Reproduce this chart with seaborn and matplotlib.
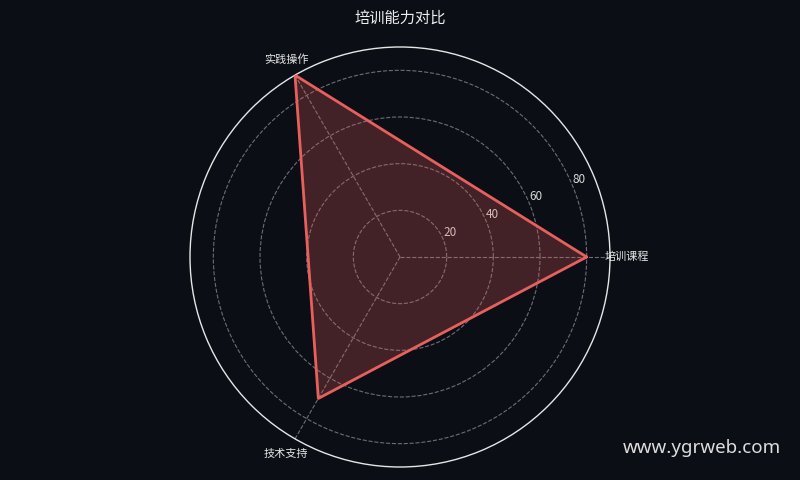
import numpy as np
import pandas as pd
import matplotlib
matplotlib.use('Agg')
import matplotlib.pyplot as plt
import seaborn as sns

categories = ['培训课程', '实践操作', '技术支持']
values = [80, 90, 70]
r_ticks = [20, 40, 60, 80]
r_max = 90

bg = '#0b0e14'
line_c = '#e8605e'

sns.set_theme(style='dark')
plt.rcParams['font.family'] = ['Noto Sans CJK SC', 'DejaVu Sans']
plt.rcParams['axes.unicode_minus'] = False

angles = np.linspace(0, 2 * np.pi, len(categories), endpoint=False)
# close the loop at 2*pi so lineplot does not merge it with the first point
df = pd.DataFrame({'theta': list(angles) + [2 * np.pi],
                   'r': values + [values[0]]})

fig = plt.figure(figsize=(8, 4.8), dpi=100, facecolor=bg)
ax = fig.add_axes([0.2375, 0.0271, 0.525, 0.875], projection='polar')
ax.set_facecolor(bg)

ax.fill(df.theta, df.r, color=line_c, alpha=0.25, zorder=2)
sns.lineplot(data=df, x='theta', y='r', sort=False, estimator=None, color=line_c,
             linewidth=2, ax=ax, zorder=3, legend=False)

ax.set_ylim(0, r_max)
ax.set_yticks(r_ticks)
ax.set_yticklabels([str(t) for t in r_ticks], color='#d8d8d8', fontsize=8.5)
ax.set_rlabel_position(22.5)
ax.set_xlim(0, 2 * np.pi)
ax.set_xticks(angles)
ax.set_xticklabels([])
ax.grid(True, color='#6b6e73', linestyle='--', linewidth=0.8)
ax.spines['polar'].set_color('#e6e6e6')
ax.spines['polar'].set_linewidth(1.0)
ax.set_xlabel('')
ax.set_ylabel('')

# category labels
ax.text(angles[0], 87.5, categories[0], ha='left', va='center', color='#e6e6e6',
        fontsize=8, clip_on=False)
ax.text(angles[1], 97.5, categories[1], ha='center', va='center', color='#e6e6e6',
        fontsize=8, clip_on=False)
ax.text(angles[2], 97.5, categories[2], ha='center', va='center', color='#e6e6e6',
        fontsize=8, clip_on=False)

fig.text(0.5, 0.962, '培训能力对比', ha='center', va='center', color='#eeeeee', fontsize=11)
fig.text(0.976, 0.066, 'www.ygrweb.com', ha='right', va='center', color='#dddddd',
         fontsize=13.5, family=['Noto Sans', 'DejaVu Sans'])

plt.savefig('out.png', facecolor=bg)
plt.close()
